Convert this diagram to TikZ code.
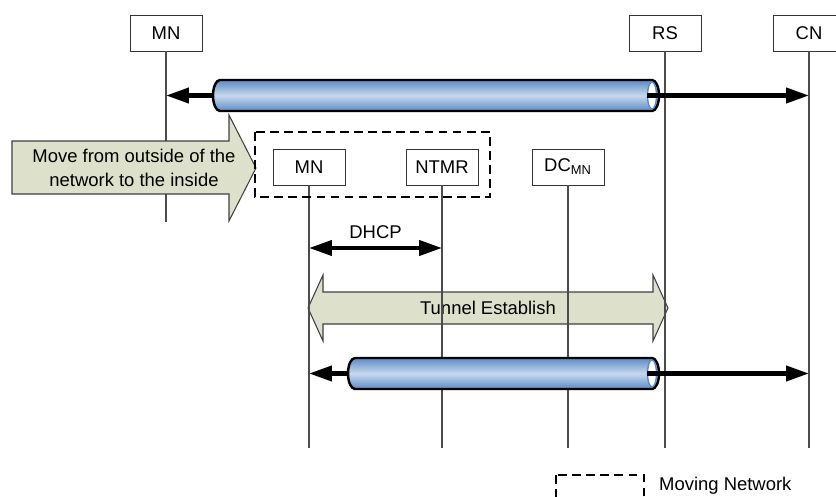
\documentclass[tikz,border=0pt]{standalone}
\usepackage{fontspec}
\setmainfont{Liberation Sans}
\usetikzlibrary{arrows.meta}
\definecolor{tubedark}{HTML}{5B8BC5}
\definecolor{tubelight}{HTML}{C8D8EE}
\definecolor{blockfill}{HTML}{DDE1CB}
\tikzset{
	entity/.style={draw=black!80, fill=white, minimum width=1.44cm, minimum height=0.72cm, inner sep=0pt},
	life/.style={draw=black!70, line width=0.6pt},
	msg/.style={line width=2.3pt, -{Triangle[length=13pt,width=8.5pt]}},
	dbl/.style={line width=2.3pt, {Triangle[length=13pt,width=8.5pt]}-{Triangle[length=13pt,width=8.5pt]}},
	tube/.style={line width=1.4pt, top color=tubedark, bottom color=tubedark, middle color=tubelight},
	mnet/.style={line width=1.1pt, dash pattern=on 5pt off 3pt},
	block/.style={draw=black!75, fill=blockfill, line width=0.6pt},
}

\begin{document}
\begin{tikzpicture}[x=0.02cm, y=-0.02cm, font=\fontsize{10.5}{13.6}\selectfont]
			\useasboundingbox (0,0) rectangle (836,497);
			\clip (0,0) rectangle (836,497);
			% tunnel establish (under the lifelines)
			\draw[block] (308,308) -- (323,275) -- (323,292) -- (653,292) -- (653,275) -- (668,308)
				-- (653,341) -- (653,324) -- (323,324) -- (323,341) -- cycle;
			\node (est) at (488,308) {Tunnel Establish};
			% entities
			\node[entity] (mn) at (166,33) {MN};
			\node[entity] (rs) at (665,33) {RS};
			\node[entity] (cn) at (809,33) {CN};
			\node[entity] (mn2) at (309,167) {MN};
			\node[entity] (ntmr) at (442,167) {NTMR};
			\node[entity] (dc) at (568,167) {DC\textsubscript{MN}};
			\draw[life] (mn.south) -- (mn |- 0,222);
			\draw[life] (rs.south) -- (rs |- 0,448);
			\draw[life] (cn.south) -- (cn |- 0,448);
			\draw[life] (mn2.south) -- (mn2 |- 0,448);
			\draw[life] (ntmr.south) -- (ntmr |- 0,448);
			\draw[life] (dc.south) -- (dc |- 0,448);
			% first tunnel
			\draw[tube] (652,80) -- (220,80) arc (90:270:0.14cm and 0.31cm) -- (652,111) arc (-90:90:0.14cm and 0.31cm) -- cycle;
			\filldraw[fill=white, draw=tubedark, line width=0.8pt] (652,95.5) ellipse (0.09cm and 0.27cm);
			\coordinate (ta-l) at (213,95.5);
			\coordinate (ta-r) at (647,95.5);
			\draw[msg] (ta-l) -- (mn |- ta-l);
			\draw[msg] (ta-r) -- (cn |- ta-r);
			% move into the network
			\draw[block] (12,141) -- (229,141) -- (229,115) -- (256,168) -- (229,221) -- (229,194) -- (12,194) -- cycle;
			\node[align=center] (move) at (134,168) {Move from outside of the\\network to the inside};
			\draw[mnet] (255,132) rectangle (490,197);
			% DHCP
			\coordinate (dh) at (0,248);
			\draw[dbl] (mn2 |- dh) -- node[above=1pt]{DHCP} (ntmr |- dh);
			% second tunnel
			\draw[tube] (652,358) -- (355,358) arc (90:270:0.14cm and 0.31cm) -- (652,389) arc (-90:90:0.14cm and 0.31cm) -- cycle;
			\filldraw[fill=white, draw=tubedark, line width=0.8pt] (652,373.5) ellipse (0.09cm and 0.27cm);
			\coordinate (tb-l) at (348,373.5);
			\coordinate (tb-r) at (647,373.5);
			\draw[msg] (tb-l) -- (mn2 |- tb-l);
			\draw[msg] (tb-r) -- (cn |- tb-r);
			% legend
			\draw[mnet] (556,475) rectangle (644,512);
			\node[anchor=west] (leg) at (653,486) {Moving Network};
		\end{tikzpicture}
\end{document}
